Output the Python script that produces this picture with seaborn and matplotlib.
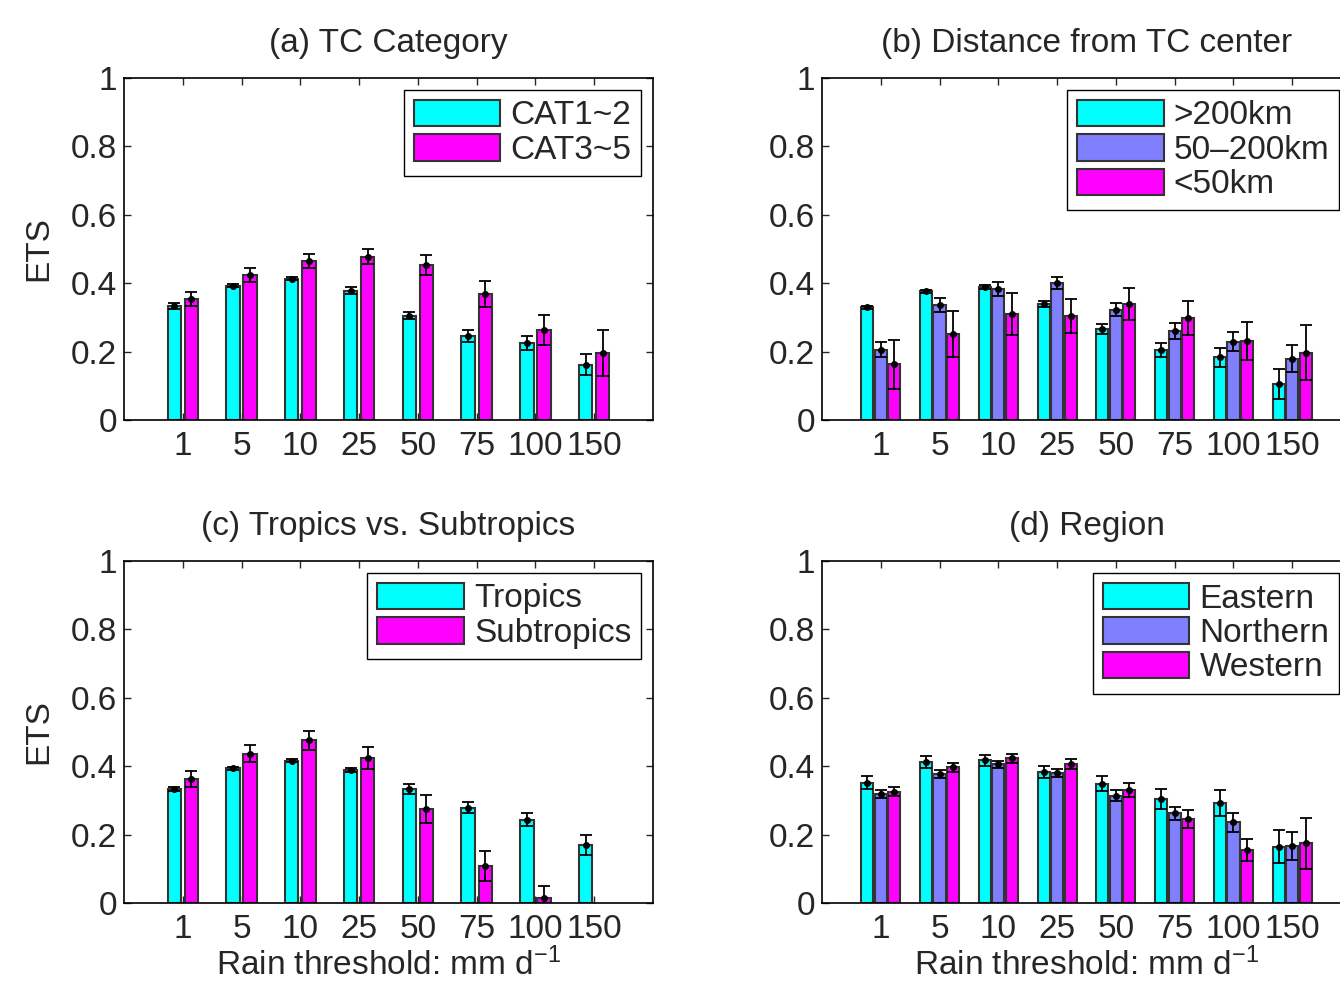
import numpy as np
import pandas as pd
import matplotlib
matplotlib.use("Agg")
import matplotlib.pyplot as plt
import seaborn as sns

# ── Data ───────────────────────────────────────────────────────────────────────

thresholds = ["1", "5", "10", "25", "50", "75", "100", "150"]

# (a) TC category
cat12     = [0.334, 0.393, 0.413, 0.378, 0.305, 0.246, 0.225, 0.162]
cat12_err = [0.008, 0.005, 0.005, 0.010, 0.011, 0.017, 0.020, 0.030]
cat35     = [0.353, 0.424, 0.465, 0.478, 0.454, 0.368, 0.263, 0.196]
cat35_err = [0.020, 0.020, 0.020, 0.021, 0.029, 0.037, 0.044, 0.066]

# (b) distance from TC center
far      = [0.329, 0.376, 0.389, 0.339, 0.267, 0.205, 0.183, 0.104]
far_err  = [0.005, 0.005, 0.005, 0.008, 0.015, 0.020, 0.028, 0.044]
mid      = [0.206, 0.337, 0.383, 0.400, 0.323, 0.261, 0.229, 0.179]
mid_err  = [0.021, 0.020, 0.020, 0.017, 0.020, 0.024, 0.028, 0.040]
near     = [0.163, 0.252, 0.310, 0.304, 0.340, 0.298, 0.232, 0.197]
near_err = [0.072, 0.067, 0.061, 0.050, 0.047, 0.050, 0.056, 0.080]

# (c) tropics vs subtropics
tropics      = [0.333, 0.394, 0.416, 0.389, 0.334, 0.279, 0.244, 0.170]
tropics_err  = [0.006, 0.005, 0.005, 0.007, 0.014, 0.016, 0.019, 0.030]
subtrop      = [0.362, 0.436, 0.476, 0.424, 0.276, 0.108, 0.015, np.nan]
subtrop_err  = [0.023, 0.025, 0.028, 0.032, 0.041, 0.044, 0.035, np.nan]

# (d) region
eastern      = [0.352, 0.412, 0.417, 0.383, 0.349, 0.304, 0.292, 0.165]
eastern_err  = [0.018, 0.017, 0.015, 0.018, 0.022, 0.030, 0.038, 0.049]
northern     = [0.318, 0.377, 0.406, 0.380, 0.313, 0.262, 0.236, 0.166]
northern_err = [0.011, 0.011, 0.010, 0.011, 0.016, 0.019, 0.028, 0.041]
western      = [0.326, 0.397, 0.423, 0.406, 0.330, 0.245, 0.156, 0.174]
western_err  = [0.014, 0.013, 0.014, 0.015, 0.021, 0.027, 0.032, 0.075]

CYAN, BLUE, MAGENTA = "#00FFFF", "#8080FF", "#FF00FF"
FS_TICK, FS_TITLE, FS_LEG, FS_LAB = 24, 24, 24, 24


# ── Helpers ────────────────────────────────────────────────────────────────────

def to_frame(groups):
    rows = []
    for name, vals, errs in groups:
        for t, v, e in zip(thresholds, vals, errs):
            if not np.isnan(v):
                rows.append({"threshold": t, "group": name, "ets": v, "err": e})
    return pd.DataFrame(rows)


def draw_panel(ax, groups, colors, title, width, gap):
    df = to_frame(groups)
    names = [g[0] for g in groups]
    sns.barplot(
        data=df, x="threshold", y="ets", hue="group",
        order=thresholds, hue_order=names, palette=colors,
        width=width, gap=gap, saturation=1, errorbar=None,
        edgecolor="0.2", linewidth=1.5, ax=ax,
    )

    # error bars at the bar centres seaborn chose
    for name, cont in zip(names, ax.containers):
        sub = df[df["group"] == name].set_index("threshold")
        xs, ys, es = [], [], []
        for bar in cont:
            xc = bar.get_x() + bar.get_width() / 2
            t = thresholds[int(round(xc))]
            xs.append(xc)
            ys.append(sub.loc[t, "ets"])
            es.append(sub.loc[t, "err"])
        ax.errorbar(xs, ys, yerr=es, fmt="o", color="k", ms=4,
                    elinewidth=1.3, capsize=4, capthick=1.3, zorder=5)

    ax.set_xlim(-1, 8)
    ax.set_ylim(0, 1)
    ax.set_yticks([0, 0.2, 0.4, 0.6, 0.8, 1.0])
    ax.yaxis.set_major_formatter(plt.FuncFormatter(lambda v, p: f"{v:g}"))
    ax.tick_params(direction="in", top=True, right=True, length=5,
                   labelsize=FS_TICK, width=1)
    ax.tick_params(axis="x", pad=8)
    ax.tick_params(axis="y", pad=5)
    ax.set_title(title, fontsize=FS_TITLE, pad=19)
    ax.set_xlabel("")
    ax.set_ylabel("")
    for s in ax.spines.values():
        s.set_visible(True)
        s.set_color("k")
        s.set_linewidth(1.2)

    sns.move_legend(
        ax, "upper right", title=None, frameon=True, fancybox=False,
        edgecolor="k", framealpha=1, fontsize=FS_LEG, handlelength=2.6,
        handleheight=0.85, labelspacing=0.08, handletextpad=0.3,
        borderpad=0.3, borderaxespad=0.35,
    )
    ax.get_legend().get_frame().set_linewidth(1.0)


# ── Figure ─────────────────────────────────────────────────────────────────────

sns.set_style("ticks")
plt.rcParams["font.family"] = ["Liberation Sans", "DejaVu Sans"]
plt.rcParams["mathtext.default"] = "regular"

fig = plt.figure(figsize=(13.4, 9.85), dpi=100)
W, H = 1340, 985
ax_a = fig.add_axes([124 / W, (H - 420) / H, 529 / W, 342 / H])
ax_b = fig.add_axes([822 / W, (H - 420) / H, 529 / W, 342 / H])
ax_c = fig.add_axes([124 / W, (H - 903) / H, 529 / W, 342 / H])
ax_d = fig.add_axes([822 / W, (H - 903) / H, 529 / W, 342 / H])

draw_panel(ax_a, [("CAT1~2", cat12, cat12_err), ("CAT3~5", cat35, cat35_err)],
           [CYAN, MAGENTA], "(a) TC Category", 0.58, 0.22)
draw_panel(ax_b, [(">200km", far, far_err), ("50\u2013200km", mid, mid_err),
                  ("<50km", near, near_err)],
           [CYAN, BLUE, MAGENTA], "(b) Distance from TC center", 0.69, 0.1)
draw_panel(ax_c, [("Tropics", tropics, tropics_err),
                  ("Subtropics", subtrop, subtrop_err)],
           [CYAN, MAGENTA], "(c) Tropics vs. Subtropics", 0.58, 0.22)
draw_panel(ax_d, [("Eastern", eastern, eastern_err),
                  ("Northern", northern, northern_err),
                  ("Western", western, western_err)],
           [CYAN, BLUE, MAGENTA], "(d) Region", 0.69, 0.1)

for ax in (ax_a, ax_c):
    ax.set_ylabel("ETS", fontsize=FS_LAB, labelpad=12)
for ax in (ax_c, ax_d):
    ax.set_xlabel("Rain threshold: mm d$^{-1}$", fontsize=FS_LAB, labelpad=2)

fig.savefig("out.png", dpi=100, facecolor="white")
